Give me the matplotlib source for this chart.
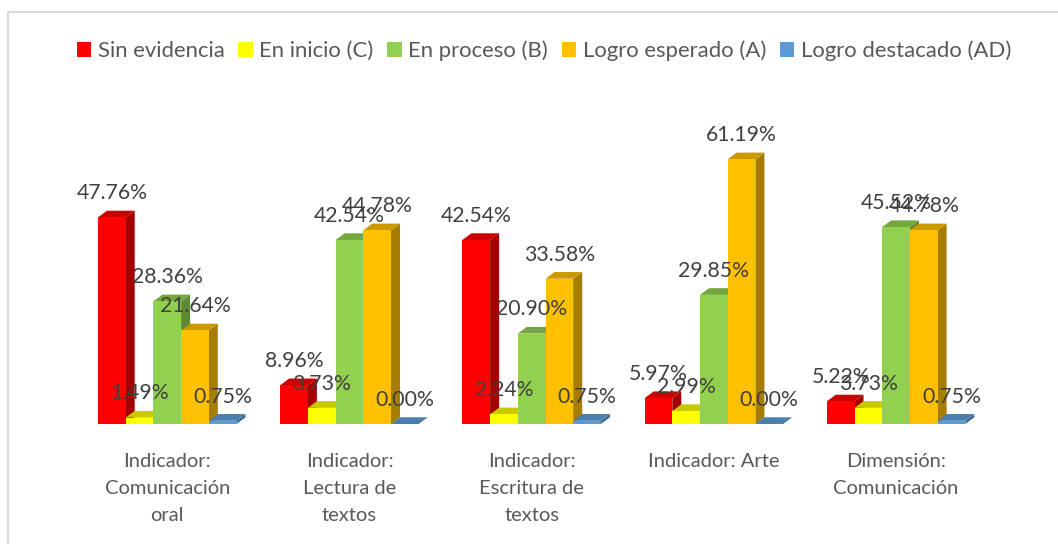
import numpy as np
import matplotlib
matplotlib.use("Agg")
import matplotlib.pyplot as plt
from matplotlib.patches import Polygon, Rectangle, Patch

plt.rcParams['font.family'] = ['Lato', 'DejaVu Sans']

# data
categories = ["Indicador:\nComunicación\noral", "Indicador:\nLectura de\ntextos",
              "Indicador:\nEscritura de\ntextos", "Indicador: Arte",
              "Dimensión:\nComunicación"]
series_names = ["Sin evidencia", "En inicio (C)", "En proceso (B)",
                "Logro esperado (A)", "Logro destacado (AD)"]
sin_evidencia = [47.76, 8.96, 42.54, 5.97, 5.22]
en_inicio = [1.49, 3.73, 2.24, 2.99, 3.73]
en_proceso = [28.36, 42.54, 20.90, 29.85, 45.52]
logro_esperado = [21.64, 44.78, 33.58, 61.19, 44.78]
logro_destacado = [0.75, 0.00, 0.75, 0.00, 0.75]
series = [sin_evidencia, en_inicio, en_proceso, logro_esperado, logro_destacado]

# front / top / side colours, like the excel 3d columns
front_colors = ["#FF0000", "#FFFF00", "#92D050", "#FFC000", "#5B9BD5"]
top_colors = ["#CC0000", "#C9C900", "#74A83F", "#CC9A00", "#4A7EAD"]
side_colors = ["#A50000", "#A3A300", "#5F8A33", "#A67D00", "#3D6991"]

W, H = 1058, 544
fig = plt.figure(figsize=(W / 100, H / 100), dpi=100)

# chart border
fig.patches.append(Rectangle((8 / W, -0.1), 1.2, 1.1 - 12 / H, transform=fig.transFigure,
                             fill=False, edgecolor="#D9D9D9", linewidth=1.5))

# axes placed in pixels: group spacing 182.2 px, 4.326 px per percent, baseline at y=424
group_px = 182.2
pct_px = 4.326
ymax = 70
left_px = 167.25 - group_px / 2
ax = fig.add_axes([left_px / W, (H - 424) / H, 5 * group_px / W, ymax * pct_px / H])
ax.set_xlim(-0.5, 4.5)
ax.set_ylim(0, ymax)
ax.axis("off")

bar_w = 27.7 / group_px
dx = 9 / group_px
dy = 6.7 / pct_px
x = np.arange(len(categories))

for j, vals in enumerate(series):
    xs = x - 2.5 * bar_w + j * bar_w
    z = 2 + j * 3
    ax.bar(xs, vals, width=bar_w, align="edge", color=front_colors[j], zorder=z + 2,
           linewidth=0)
    for xi, v in zip(xs, vals):
        top = [(xi, v), (xi + dx, v + dy), (xi + bar_w + dx, v + dy), (xi + bar_w, v)]
        side = [(xi + bar_w, 0), (xi + bar_w, v), (xi + bar_w + dx, v + dy), (xi + bar_w + dx, dy)]
        ax.add_patch(Polygon(top, closed=True, facecolor=top_colors[j], linewidth=0, zorder=z + 1))
        ax.add_patch(Polygon(side, closed=True, facecolor=side_colors[j], linewidth=0, zorder=z))
        ax.text(xi + bar_w / 2, v + 5.6, f"{v:.2f}%", ha="center", va="center",
                fontsize=15.3, color="#404040", zorder=30, clip_on=False)

# category labels
for xi, lab in zip(x, categories):
    ax.text(xi, -6.6, lab, ha="center", va="top", fontsize=14.5, color="#595959",
            linespacing=1.72, clip_on=False)

handles = [Patch(facecolor=c, edgecolor="none") for c in front_colors]
fig.legend(handles, series_names, loc="center", bbox_to_anchor=(544 / W, 1 - 51 / H),
           ncol=5, frameon=False, fontsize=15.9, handlelength=0.65, handleheight=0.65,
           handletextpad=0.3, columnspacing=0.62, labelcolor="#595959")

fig.savefig("out.png", dpi=100)
